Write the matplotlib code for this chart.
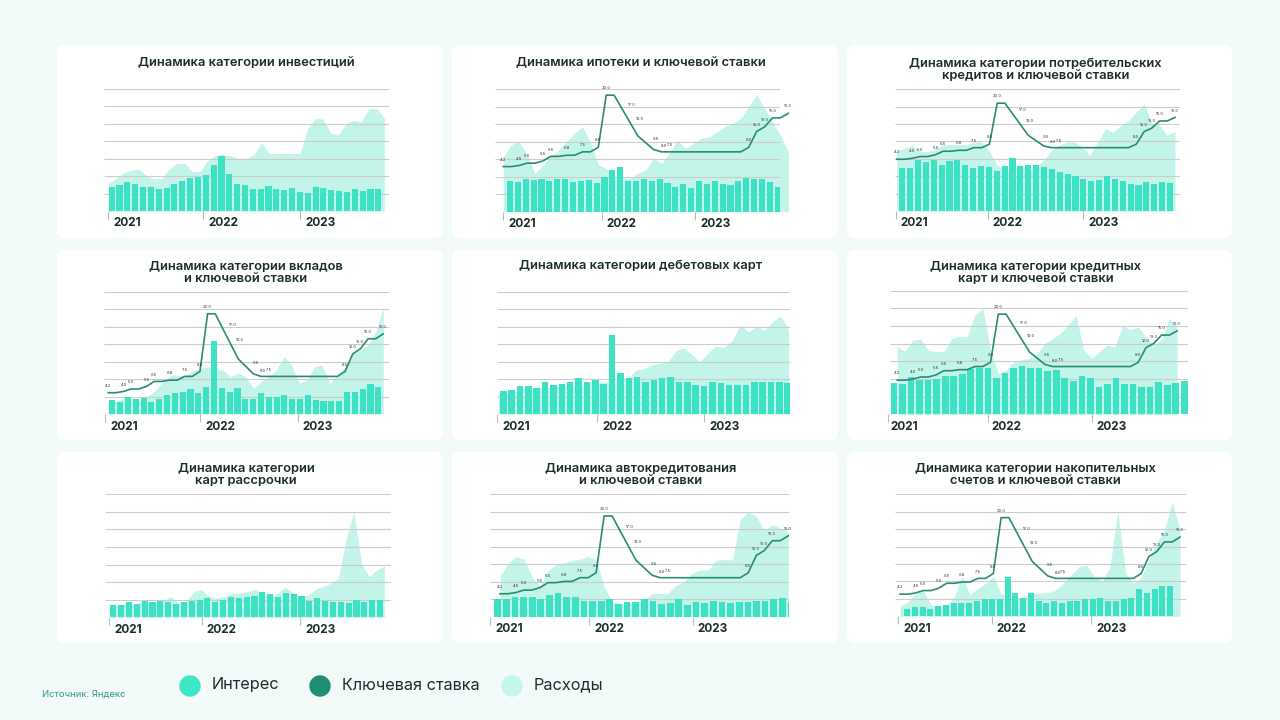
import numpy as np
import matplotlib.pyplot as plt
from matplotlib.patches import FancyBboxPatch, Circle

plt.rcParams['font.family'] = ['Inter', 'DejaVu Sans']

W, H = 1280, 720
years = ['2021', '2022', '2023']

# key rate, monthly points Jan 2021 .. Jan 2024
key_rate = [4.25, 4.25, 4.5, 5.0, 5.0, 5.5, 6.5, 6.5, 6.75, 6.75, 7.5, 7.5, 8.5,
            20.0, 20.0, 17.0, 14.0, 11.0, 9.5, 8.0, 7.5, 7.5, 7.5, 7.5, 7.5, 7.5,
            7.5, 7.5, 7.5, 7.5, 7.5, 8.5, 12.0, 13.0, 15.0, 15.0, 16.0]
key_label_idx = [0, 2, 3, 5, 6, 8, 10, 12, 13, 15, 16, 18, 19, 21, 31, 32, 33, 34, 36]

# monthly values in grid units (bars: Jan 2021 .. Nov 2023, area: 37 points)
invest_interest = [1.39, 1.51, 1.64, 1.53, 1.39, 1.39, 1.28, 1.34, 1.56, 1.74, 1.87, 1.95, 2.04, 2.63, 3.17,
                   2.10, 1.56, 1.51, 1.28, 1.28, 1.45, 1.28, 1.22, 1.34, 1.09, 1.03, 1.37, 1.34, 1.22, 1.16,
                   1.11, 1.26, 1.16, 1.28, 1.26]
invest_spend = [1.58, 1.87, 2.19, 2.35, 2.39, 2.02, 1.83, 1.87, 2.44, 2.73, 2.73, 2.25, 2.29, 2.92, 3.21,
                3.21, 3.17, 3.02, 3.02, 3.21, 3.93, 3.30, 3.30, 3.30, 3.30, 3.30, 4.73, 5.31, 5.27, 4.50,
                4.35, 5.02, 5.21, 5.11, 5.88, 5.88, 5.34]

mortgage_interest = [1.76, 1.68, 1.85, 1.81, 1.87, 1.76, 1.87, 1.87, 1.68, 1.77, 1.81, 1.62, 1.97, 2.39, 2.58,
                     1.76, 1.76, 1.87, 1.76, 1.87, 1.62, 1.43, 1.56, 1.37, 1.76, 1.56, 1.76, 1.56, 1.53, 1.76,
                     1.91, 1.87, 1.87, 1.68, 1.43]
mortgage_spend = [3.15, 3.82, 4.05, 3.24, 2.19, 2.67, 3.15, 3.53, 4.01, 4.48, 4.87, 4.01, 2.67, 2.48, 2.00,
                  1.91, 1.91, 2.19, 2.39, 3.05, 2.77, 3.34, 4.10, 3.63, 3.91, 4.20, 4.29, 4.58, 4.87, 5.06,
                  5.34, 6.01, 6.68, 5.92, 5.15, 4.39, 3.44]

consumer_interest = [2.48, 2.48, 2.96, 2.79, 2.92, 2.67, 2.88, 2.96, 2.67, 2.48, 2.60, 2.54, 2.31, 2.60, 3.02,
                     2.60, 2.67, 2.67, 2.54, 2.44, 2.25, 2.14, 2.00, 1.83, 1.74, 1.77, 2.00, 1.83, 1.74, 1.53,
                     1.49, 1.66, 1.56, 1.68, 1.62]
consumer_spend = [3.49, 3.59, 3.78, 3.44, 3.40, 3.59, 3.78, 3.82, 3.82, 3.82, 3.97, 3.97, 3.44, 2.63, 2.44,
                  2.44, 2.63, 2.35, 2.54, 2.92, 3.49, 3.78, 3.97, 3.97, 3.68, 3.21, 3.97, 4.73, 4.54, 4.92,
                  5.21, 5.69, 6.16, 5.02, 4.92, 4.35, 4.58]

deposit_interest = [0.80, 0.67, 0.95, 0.84, 0.92, 0.67, 0.86, 1.09, 1.22, 1.24, 1.45, 1.22, 1.56, 4.20, 1.51,
                    1.24, 1.51, 0.86, 0.86, 1.18, 0.95, 0.99, 1.09, 0.86, 0.86, 1.09, 0.80, 0.76, 0.74, 0.74,
                    1.24, 1.24, 1.45, 1.70, 1.56]
deposit_spend = [0.71, 0.71, 0.90, 0.90, 0.80, 0.99, 1.28, 1.76, 2.18, 2.23, 2.14, 2.42, 2.61, 2.71, 2.61,
                 2.52, 2.14, 2.33, 2.14, 1.47, 1.85, 2.14, 2.52, 3.28, 2.81, 1.76, 1.95, 2.71, 2.81, 1.76,
                 2.23, 2.71, 3.47, 3.66, 3.95, 4.71, 6.05]

debit_interest = [1.29, 1.35, 1.58, 1.63, 1.48, 1.81, 1.65, 1.71, 1.83, 2.05, 1.86, 1.92, 1.71, 4.52, 2.34,
                  2.05, 2.11, 1.81, 1.92, 2.05, 2.11, 1.86, 1.81, 1.65, 1.58, 1.86, 1.75, 1.65, 1.65, 1.65,
                  1.81, 1.81, 1.86, 1.86, 1.75]
debit_spend = [1.1, 1.2, 1.3, 1.4, 1.4, 1.5, 1.5, 1.6, 1.6, 1.7, 1.7, 1.7, 1.8, 1.8, 1.9, 1.9, 2.0, 2.5,
               2.6, 2.8, 2.9, 3.0, 3.6, 3.8, 3.4, 3.0, 3.5, 3.9, 3.8, 4.2, 5.1, 4.7, 5.0, 4.8, 5.3, 5.6, 4.8]

credit_interest = [1.79, 1.70, 2.09, 1.94, 1.94, 2.00, 2.17, 2.17, 2.26, 2.55, 2.60, 2.64, 2.04, 2.32, 2.64,
                   2.75, 2.64, 2.60, 2.45, 2.51, 2.04, 1.89, 2.17, 2.04, 1.57, 1.72, 2.04, 1.72, 1.70, 1.57,
                   1.57, 1.85, 1.64, 1.79, 1.89]
credit_spend = [3.83, 3.55, 4.21, 4.25, 3.64, 3.55, 3.55, 4.30, 4.40, 4.40, 5.62, 6.00, 3.64, 2.32, 2.51,
                2.98, 3.08, 3.17, 3.45, 4.02, 4.30, 4.58, 5.06, 5.62, 3.64, 3.17, 3.55, 3.92, 3.83, 5.06,
                4.77, 4.96, 4.40, 3.92, 4.21, 5.43, 4.96]

install_interest = [0.70, 0.70, 0.85, 0.76, 0.93, 0.89, 0.93, 0.89, 0.76, 0.87, 0.95, 0.99, 1.08, 0.85, 0.99,
                    1.18, 1.12, 1.18, 1.23, 1.46, 1.31, 1.18, 1.40, 1.31, 1.21, 0.95, 1.10, 0.93, 0.89, 0.85,
                    0.80, 0.99, 0.87, 0.99, 0.99]
install_spend = [0.61, 0.65, 0.76, 0.70, 0.83, 0.83, 0.89, 0.95, 1.18, 0.80, 0.89, 1.46, 1.59, 1.18, 1.08,
                 1.18, 1.33, 1.37, 1.46, 1.59, 1.40, 1.18, 1.37, 1.71, 1.40, 1.18, 1.27, 1.59, 1.75, 1.94,
                 2.22, 4.50, 6.02, 3.07, 2.31, 2.69, 2.92]

auto_interest = [1.01, 1.01, 1.11, 1.11, 1.11, 1.01, 1.24, 1.34, 1.15, 1.11, 0.92, 0.92, 0.92, 0.99, 0.73,
                 0.86, 0.86, 1.01, 0.92, 0.73, 0.76, 0.99, 0.67, 0.86, 0.76, 0.92, 0.86, 0.80, 0.86, 0.86,
                 0.92, 0.92, 1.01, 1.09, 0.86]
auto_spend = [2.29, 3.05, 3.44, 3.28, 2.29, 1.72, 2.67, 2.96, 3.09, 3.21, 3.28, 3.44, 3.28, 1.72, 0.86,
              0.76, 0.76, 0.80, 0.95, 1.30, 1.34, 1.34, 1.81, 2.00, 2.48, 2.67, 2.67, 3.24, 3.28, 3.24,
              5.53, 6.01, 5.73, 4.96, 5.25, 5.06, 4.87]

savings_interest = [0.44, 0.54, 0.54, 0.44, 0.59, 0.63, 0.78, 0.78, 0.78, 0.90, 0.98, 0.98, 0.98, 2.28, 1.32,
                    1.07, 1.32, 0.90, 0.78, 0.88, 0.78, 0.88, 0.88, 0.98, 0.98, 1.07, 0.88, 0.88, 0.98, 1.07,
                    1.55, 1.32, 1.55, 1.74, 1.74]
savings_spend = [0.55, 0.84, 1.28, 1.51, 0.65, 0.55, 0.65, 1.13, 2.31, 1.22, 1.61, 1.89, 2.28, 1.32, 1.03,
                 0.94, 1.13, 1.32, 1.32, 1.36, 1.51, 1.89, 2.37, 2.85, 2.94, 2.28, 1.99, 2.85, 6.10, 2.47,
                 1.89, 2.18, 3.23, 4.19, 4.95, 6.58, 4.95]

titles = ['Динамика категории инвестиций',
          'Динамика ипотеки и ключевой ставки',
          'Динамика категории потребительских\nкредитов и ключевой ставки',
          'Динамика категории вкладов\nи ключевой ставки',
          'Динамика категории дебетовых карт',
          'Динамика категории кредитных\nкарт и ключевой ставки',
          'Динамика категории\nкарт рассрочки',
          'Динамика автокредитования\nи ключевой ставки',
          'Динамика категории накопительных\nсчетов и ключевой ставки']
interest_sets = [invest_interest, mortgage_interest, consumer_interest, deposit_interest, debit_interest,
                 credit_interest, install_interest, auto_interest, savings_interest]
spend_sets = [invest_spend, mortgage_spend, consumer_spend, deposit_spend, debit_spend,
              credit_spend, install_spend, auto_spend, savings_spend]
# key-rate axis range per panel (None = no key rate line)
rate_lims = [None, (-5.7, 21.3), (-10.3, 23.9), (0, 24.4), None, (-3.9, 25.6), None, (-0.4, 24.4), (-0.3, 24.8)]

# layout in pixels: grid (l, r, t, b), first/last bar centre, line span, year ticks
layout = [
    ((104, 389, 89, 211), (111.7, 378.3), (108.3, 384.3), (108.3, 203.3, 300)),
    ((495, 780, 89.3, 211.7), (510, 777.7), (503.3, 788.3), (503.3, 601.7, 695)),
    ((895, 1180, 89.3, 211), (902.3, 1170), (896.7, 1175), (895.7, 987.7, 1083.3)),
    ((104, 389, 291.7, 414), (112.3, 378.3), (108.3, 383.3), (105, 200, 297.7)),
    ((497, 790, 291.7, 414), (503.3, 787.7), (498.3, 788.7), (497.3, 597.3, 704)),
    ((888, 1188, 290.7, 414.3), (891.7, 1184.3), (895, 1177), (885.7, 986.7, 1091)),
    ((105, 391, 494.3, 617.3), (113.3, 380), (110, 384.3), (109, 201.7, 300)),
    ((490, 789, 494.3, 616.7), (497.7, 791), (500, 788.3), (490, 589.3, 692.7)),
    ((895, 1186, 494.3, 616.3), (907.3, 1170), (900, 1180), (898.3, 991.7, 1091)),
]
card_cols = [(57, 443), (452, 838), (847, 1232)]
card_rows = [(45, 238), (250, 440), (452, 643)]
title_y = [(63, 70), (266, 273), (468, 475)]

C_BAR = '#3DE2C4'
C_AREA = '#C3F4EA'
C_LINE = '#2B8C75'
C_BG = '#F2FBF9'
C_TEXT = '#1C2E2B'

fig = plt.figure(figsize=(W / 100, H / 100), dpi=100, facecolor=C_BG)
bg = fig.add_axes([0, 0, 1, 1])
bg.set_xlim(0, W)
bg.set_ylim(H, 0)
bg.axis('off')

for r, (y0, y1) in enumerate(card_rows):
    for c, (x0, x1) in enumerate(card_cols):
        bg.add_patch(FancyBboxPatch((x0, y0), x1 - x0, y1 - y0,
                                    boxstyle='round,pad=0,rounding_size=8', fc='white', ec='none'))

for p in range(9):
    r, c = divmod(p, 3)
    (gl, gr, gt, gb), (b0, b1), (s0, s1), yticks_px = layout[p]
    interest = interest_sets[p]
    spend = spend_sets[p]
    n = len(interest)
    u = (b1 - b0) / (n - 1)

    def to_x(px):
        return (px - b0) / u

    ax = fig.add_axes([gl / W, 1 - gb / H, (gr - gl) / W, (gb - gt) / H])
    ax.set_facecolor('none')
    ax.set_xlim(to_x(gl), to_x(gr))
    ax.set_ylim(0, 7)

    xs = np.linspace(to_x(s0), to_x(s1), len(spend))
    ax.fill_between(xs, 0, spend, color=C_AREA, lw=0, zorder=1, clip_on=False)
    ax.hlines(range(8), to_x(gl), to_x(gr), color='#CCCCCC', lw=0.8, zorder=1.5)
    ax.bar(np.arange(n), interest, width=0.78, color=C_BAR, zorder=2)

    for s in ax.spines.values():
        s.set_visible(False)
    ax.set_yticks([])
    ax.set_xticks([to_x(t) for t in yticks_px])
    ax.set_xticklabels([])
    ax.tick_params(axis='x', length=6, width=0.8, color='#BBBBBB')

    for t, yl in zip(yticks_px, years):
        bg.text(t + 5, gb + 12.5, yl, fontsize=8.5, fontweight='bold', color=C_TEXT,
                ha='left', va='center')

    if rate_lims[p] is not None:
        ax2 = ax.twinx()
        ax2.set_ylim(*rate_lims[p])
        ax2.axis('off')
        xr = np.linspace(to_x(s0), to_x(s1), len(key_rate))
        ax2.plot(xr, key_rate, color=C_LINE, lw=1.2, clip_on=False, zorder=3)
        for k in key_label_idx:
            off = (7, 1) if k in (15, 16, 18, 19) else (0, 3.5)
            ax2.annotate(f'{key_rate[k]:.1f}', (xr[k], key_rate[k]), xytext=off,
                         textcoords='offset points', fontsize=3, color='#333333',
                         ha='center', va='bottom', annotation_clip=False)

    cx = (card_cols[c][0] + card_cols[c][1]) / 2 - 4
    ty = title_y[r][1] if '\n' in titles[p] else title_y[r][0]
    bg.text(cx, ty, titles[p], fontsize=9.3, fontweight='semibold', color=C_TEXT,
            ha='center', va='center', linespacing=1.1)

# legend
legend_items = [('Интерес', '#3EE5C6', 190), ('Ключевая ставка', '#1F8E74', 320), ('Расходы', '#C6F5EC', 512)]
for name, col, lx in legend_items:
    bg.add_patch(Circle((lx, 686), 10, color=col))
    bg.text(lx + 22, 685, name, fontsize=11.7, color=C_TEXT, ha='left', va='center')
bg.text(42, 694, 'Источник: Яндекс', fontsize=6.8, color='#2E9A82', ha='left', va='center')

fig.savefig('out.png', dpi=100, facecolor=C_BG)
